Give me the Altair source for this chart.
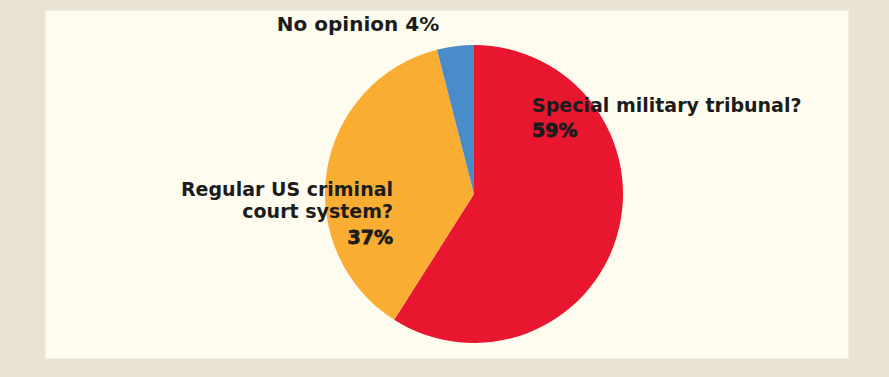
import altair as alt
import pandas as pd

# Data
categories = ["Special military tribunal?", "Regular US criminal\ncourt system?", "No opinion"]
values = [59, 37, 4]
slice_order = [0, 1, 2]
colors = ["#e8162e", "#f9ae33", "#4a8bc9"]

df = pd.DataFrame({"category": categories, "value": values, "order": slice_order})
df["pct"] = df["value"].astype(str) + "%"
df["inline"] = df["category"] + " " + df["pct"]

base = alt.Chart(df)

FONT = "DejaVu Sans"
INK = "#1c1c1c"

pie = base.mark_arc(outerRadius=149).encode(
    theta=alt.Theta("value:Q", stack=True),
    color=alt.Color("category:N", scale=alt.Scale(domain=categories, range=colors), legend=None),
    order=alt.Order("order:Q"),
    x=alt.value(429),
    y=alt.value(184),
)

special_name = base.transform_filter(alt.datum.order == 0).mark_text(
    align="left", baseline="alphabetic", font=FONT, fontWeight="bold", fontSize=19, color=INK
).encode(text="category:N", x=alt.value(487), y=alt.value(102))

special_pct = base.transform_filter(alt.datum.order == 0).mark_text(
    align="left", baseline="alphabetic", font=FONT, fontWeight="bold", fontSize=19, color=INK,
    stroke=INK, strokeWidth=0.8
).encode(text="pct:N", x=alt.value(487), y=alt.value(127))

regular_name = base.transform_filter(alt.datum.order == 1).mark_text(
    align="right", baseline="alphabetic", font=FONT, fontWeight="bold", fontSize=19, color=INK,
    lineBreak="\n", lineHeight=22
).encode(text="category:N", x=alt.value(348), y=alt.value(186))

regular_pct = base.transform_filter(alt.datum.order == 1).mark_text(
    align="right", baseline="alphabetic", font=FONT, fontWeight="bold", fontSize=19, color=INK,
    stroke=INK, strokeWidth=0.8
).encode(text="pct:N", x=alt.value(348), y=alt.value(234))

noop = base.transform_filter(alt.datum.order == 2).mark_text(
    align="center", baseline="alphabetic", font=FONT, fontWeight="bold", fontSize=20, color=INK
).encode(text="inline:N", x=alt.value(313), y=alt.value(21))

chart = alt.layer(pie, special_name, special_pct, regular_name, regular_pct, noop).properties(
    width=803,
    height=348,
    background="#e9e3d3",
    padding={"left": 45, "top": 10, "right": 41, "bottom": 19},
    autosize="none",
).configure_view(fill="#fefcef", strokeOpacity=0)

chart.save("out.html", embed_options={"renderer": "svg", "actions": False})
